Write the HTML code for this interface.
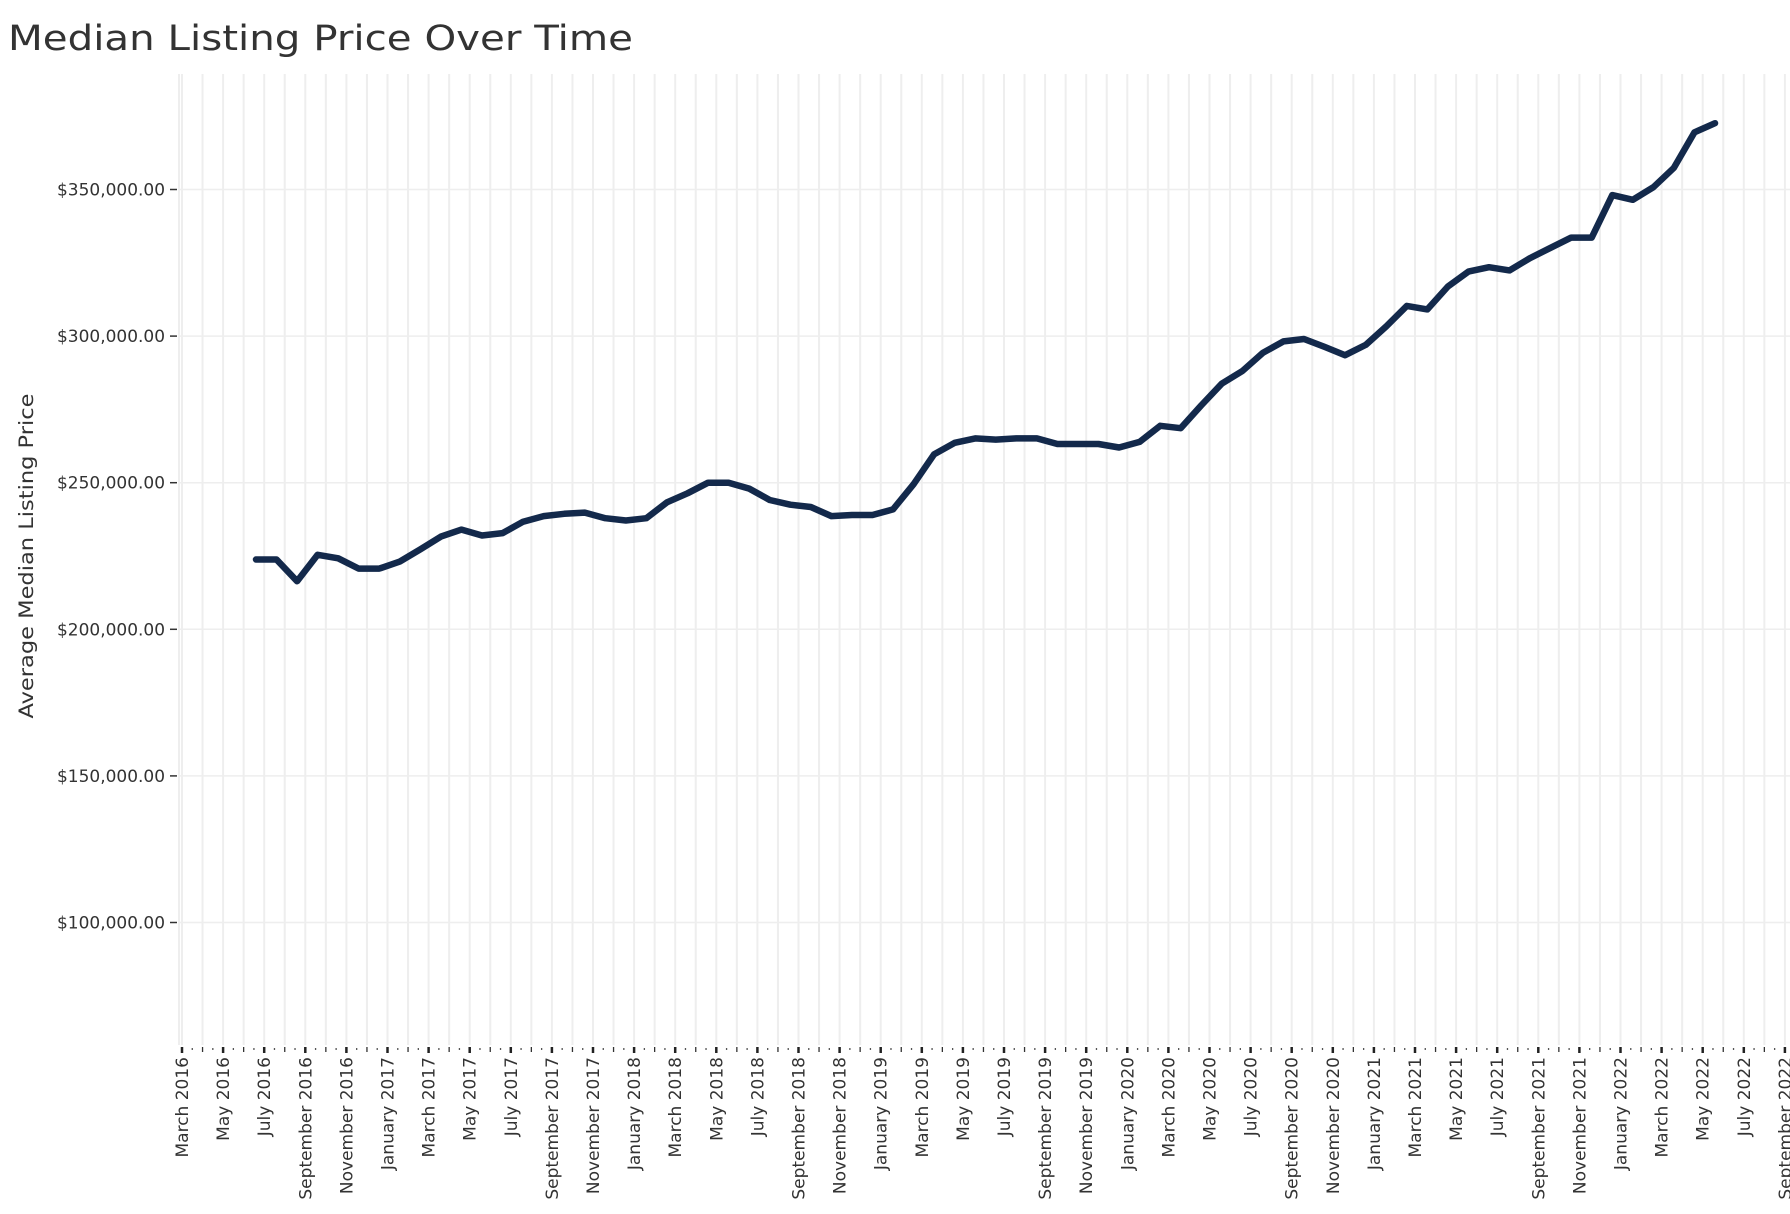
<!DOCTYPE html>
<html><head><meta charset="utf-8"><style>
html,body{margin:0;padding:0;background:#fff;}
svg{display:block;font-family:"DejaVu Sans","Liberation Sans",sans-serif;}
</style></head><body>
<svg id="chart" width="1790" height="1214" viewBox="0 0 1790 1214" xmlns="http://www.w3.org/2000/svg">
<text x="8" y="50" font-size="35" fill="#333" textLength="625" lengthAdjust="spacingAndGlyphs">Median Listing Price Over Time</text>
<text transform="translate(33,556) rotate(-90)" text-anchor="middle" font-size="19.5" fill="#333" textLength="325" lengthAdjust="spacingAndGlyphs">Average Median Listing Price</text>
<g id="grid"></g>
<g id="yaxis"></g>
<g id="xaxis"></g>
<g id="series"></g>
</svg>
<script>
// ---- data ----
const startMonthIndex = 4; // July 2016 relative to March 2016
const prices = [223800,223800,216400,225400,224200,220700,220700,223100,227300,231600,234000,232000,
232800,236700,238600,239400,239800,237900,237100,237900,243300,246400,250000,250000,
248000,244100,242500,241700,238600,239000,239000,240900,249500,259700,263600,265100,
264700,265100,265100,263200,263200,263200,262000,263900,269400,268600,276400,283800,
288100,294300,298200,299000,296300,293500,297000,303300,310300,309100,316900,322000,
323500,322400,326600,330100,333600,333600,348100,346500,350800,357400,369500,372600];
const yTicks = [100000,150000,200000,250000,300000,350000];
const yTickLabels = ["$100,000.00","$150,000.00","$200,000.00","$250,000.00","$300,000.00","$350,000.00"];
const monthNames = ["January","February","March","April","May","June","July","August","September","October","November","December"];
const xTickLabels = [];
for (let k = 0; k <= 78; k += 2) { const m = (2 + k) % 12, y = 2016 + Math.floor((2 + k) / 12); xTickLabels.push(monthNames[m] + " " + y); }

// ---- scales ----
const L = 179, R = 1790, T = 74, B = 1045;
const X0 = 182, DX = 20.55, DATA_OFFSET = -0.4;
function x(k){ return X0 + DX * k; }
function y(v){ return 189.5 + (350000 - v) / 50000 * 146.6; }
const NS = "http://www.w3.org/2000/svg";
function mk(tag, attrs, parent){ const e = document.createElementNS(NS, tag); for (const a in attrs) e.setAttribute(a, attrs[a]); parent.appendChild(e); return e; }

const grid = document.getElementById('grid');
for (let k = 0; k <= 78; k++) {
  const gx = x(k);
  if (gx > R) break;
  const l = mk('line', {x1: gx, x2: gx, y1: T, y2: B, stroke: '#eeeeee', 'stroke-width': 2}, grid);
  
  
}
mk('line', {x1: L, x2: L, y1: T, y2: B, stroke: '#eeeeee', 'stroke-width': 2}, grid);
yTicks.forEach(v => {
  const l = mk('line', {x1: L, x2: R, y1: y(v), y2: y(v), stroke: '#eeeeee', 'stroke-width': 1.5}, grid);
  
  
});

const ya = document.getElementById('yaxis');
yTicks.forEach((v, i) => {
  mk('line', {x1: 170, x2: 177, y1: y(v), y2: y(v), stroke: '#333', 'stroke-width': 1.5}, ya);
  const t = mk('text', {x: 165, y: y(v) + 6, 'text-anchor': 'end', 'font-size': 17, fill: '#333', textLength: 108, lengthAdjust: 'spacingAndGlyphs'}, ya);
  
  
  t.textContent = yTickLabels[i];
});

const xa = document.getElementById('xaxis');
for (let h = 0; h <= 156; h++) {
  const k = h / 2, tx = x(k);
  if (tx > R) break;
  if (h % 4 === 0) mk('line', {x1: tx, x2: tx, y1: B + 2, y2: B + 8, stroke: '#222', 'stroke-width': 2.5}, xa);
  else if (h % 2 === 0) mk('line', {x1: tx, x2: tx, y1: B + 2, y2: B + 7, stroke: '#333', 'stroke-width': 1.3}, xa);
  else mk('line', {x1: tx, x2: tx, y1: B + 3, y2: B + 5, stroke: '#555', 'stroke-width': 1.3}, xa);
}
xTickLabels.forEach((lab, i) => {
  const tx = x(i * 2);
  const t = mk('text', {transform: 'translate(' + (tx + 6) + ',' + (B + 12) + ') rotate(-90)', 'text-anchor': 'end', 'font-size': 17, fill: '#333'}, xa);
  
  
  t.textContent = lab;
});

const s = document.getElementById('series');
const pts = prices.map((v, i) => x(startMonthIndex + i + DATA_OFFSET).toFixed(1) + ',' + y(v).toFixed(1)).join(' ');
const pl = mk('polyline', {points: pts, fill: 'none', stroke: '#13294b', 'stroke-width': 6.5, 'stroke-linejoin': 'round', 'stroke-linecap': 'round'}, s);


</script>
</body></html>
